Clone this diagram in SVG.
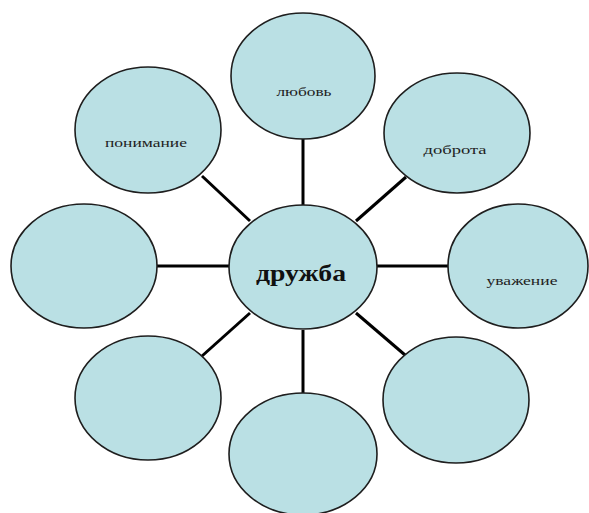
<svg xmlns="http://www.w3.org/2000/svg" width="589" height="513" viewBox="0 0 589 513">
<style>
.n{fill:#bae0e4;stroke:#1e1e1e;stroke-width:1.6}
.c line{stroke:#000;stroke-width:3}
.t{font-family:"Liberation Serif",serif;font-size:13px;fill:#222;text-anchor:middle}
.m{font-family:"Liberation Serif",serif;font-size:23px;font-weight:bold;fill:#111;text-anchor:middle}
</style>
<rect width="589" height="513" fill="#fff"/>
<g class="c" id="connectors">
<line x1="303" y1="139" x2="303" y2="206"/>
<line x1="157" y1="266" x2="229" y2="266"/>
<line x1="377" y1="266" x2="448" y2="266"/>
<line x1="303" y1="330" x2="303" y2="393"/>
<line x1="202" y1="176" x2="250" y2="221"/>
<line x1="406" y1="177" x2="356" y2="221"/>
<line x1="202" y1="356" x2="250" y2="313"/>
<line x1="405" y1="355" x2="356" y2="313"/>
</g>
<g id="center"><ellipse class="n" cx="303" cy="267" rx="74" ry="62"/><text class="m" x="301" y="281" textLength="90" lengthAdjust="spacingAndGlyphs">дружба</text></g>
<g id="top"><ellipse class="n" cx="303" cy="76" rx="72" ry="63"/><text class="t" x="304" y="96" textLength="55" lengthAdjust="spacingAndGlyphs">любовь</text></g>
<g id="topleft"><ellipse class="n" cx="148" cy="130" rx="73" ry="63"/><text class="t" x="146" y="147" textLength="82" lengthAdjust="spacingAndGlyphs">понимание</text></g>
<g id="topright"><ellipse class="n" cx="457" cy="133" rx="73" ry="60"/><text class="t" x="455" y="154" textLength="63" lengthAdjust="spacingAndGlyphs">доброта</text></g>
<g id="right"><ellipse class="n" cx="518" cy="266" rx="70" ry="62"/><text class="t" x="522" y="285" textLength="71" lengthAdjust="spacingAndGlyphs">уважение</text></g>
<g id="left"><ellipse class="n" cx="84" cy="266" rx="73" ry="62"/></g>
<g id="bottomleft"><ellipse class="n" cx="148" cy="398" rx="73" ry="62"/></g>
<g id="bottom"><ellipse class="n" cx="303" cy="454" rx="74" ry="61"/></g>
<g id="bottomright"><ellipse class="n" cx="456" cy="400" rx="73" ry="63"/></g>
</svg>
